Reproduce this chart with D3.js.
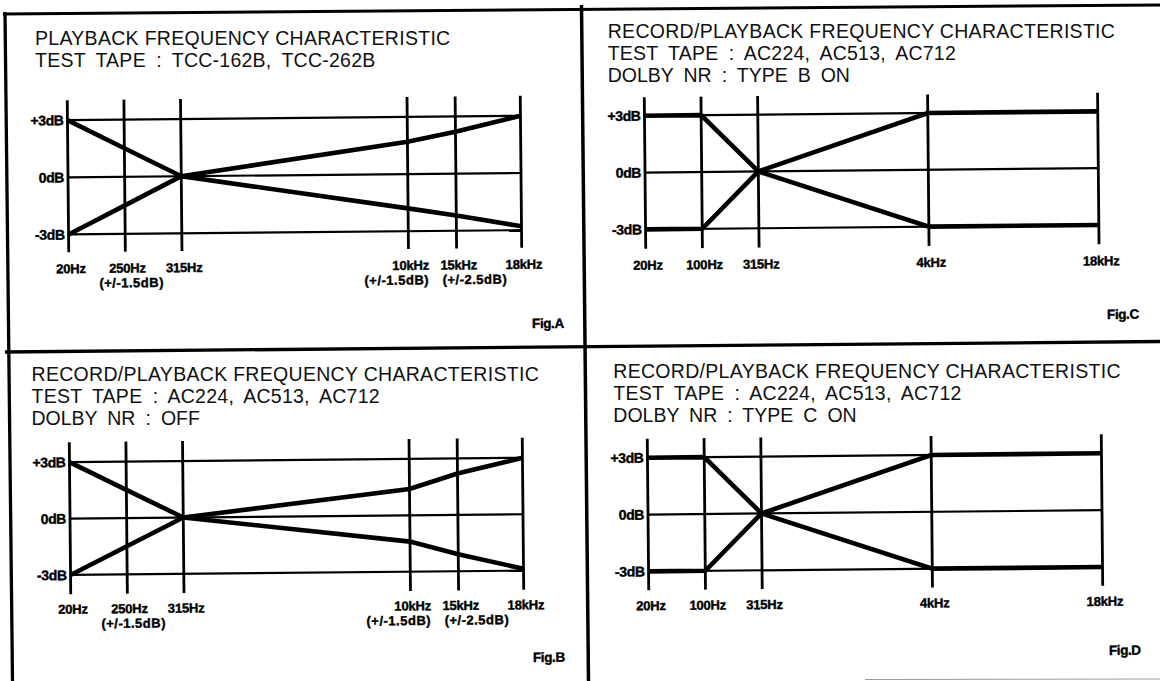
<!DOCTYPE html>
<html><head><meta charset="utf-8">
<script src="https://cdn.jsdelivr.net/npm/d3@7/dist/d3.min.js"></script>
<style>html,body{margin:0;padding:0;background:#fff;}svg{display:block}</style>
</head><body>
<svg id="chart" width="1160" height="681"></svg>
<script>
// ---------------- data ----------------
const freqsAB = ["20Hz", "250Hz", "315Hz", "10kHz", "15kHz", "18kHz"];
const tolAB = ["", "(+/-1.5dB)", "", "(+/-1.5dB)", "(+/-2.5dB)", ""];
const freqsCD = ["20Hz", "100Hz", "315Hz", "4kHz", "18kHz"];
const tolCD = ["", "", "", "", ""];
const dbTicks = [3, 0, -3];
const dbTickLabels = ["+3dB", "0dB", "-3dB"];

const upperA = [3, 1.5, 0, 1.7, 2.2, 3];
const lowerA = [-3, -1.5, 0, -1.8, -2.2, -2.8];
const upperB = [3, 1.5, 0, 1.4, 2.2, 3];
const lowerB = [-3, -1.5, 0, -1.4, -2.1, -2.9];
const upperC = [3, 3, 0, 3, 3];
const lowerC = [-3, -3, 0, -3, -3];
const upperD = [3, 3, 0, 3, 3];
const lowerD = [-3, -3, 0, -3, -3];

const titleA = ["PLAYBACK FREQUENCY CHARACTERISTIC", "TEST TAPE : TCC-162B, TCC-262B"];
const titleB = ["RECORD/PLAYBACK FREQUENCY CHARACTERISTIC", "TEST TAPE : AC224, AC513, AC712", "DOLBY NR : OFF"];
const titleC = ["RECORD/PLAYBACK FREQUENCY CHARACTERISTIC", "TEST TAPE : AC224, AC513, AC712", "DOLBY NR : TYPE B ON"];
const titleD = ["RECORD/PLAYBACK FREQUENCY CHARACTERISTIC", "TEST TAPE : AC224, AC513, AC712", "DOLBY NR : TYPE C ON"];
const figLabels = ["Fig.A", "Fig.B", "Fig.C", "Fig.D"];

// ---------------- layout ----------------
const slotsAB = [0, 1, 2, 6, 6.85, 8];
const slotsCD = [0, 1, 2, 5, 8];
const tolDxAB = [0, 4, 0, -14, 16, 0];
const tolDxCD = [0, 0, 0, 0, 0];
const TILT = -0.55;

const panels = [
  {fig: figLabels[0], title: titleA, freqs: freqsAB, tol: tolAB, slots: slotsAB, tolDx: tolDxAB,
   upper: upperA, lower: lowerA, x0: 68, x1: 521, yTop: 118, yBot: 232.3, vTop: 98, vBot: 250,
   labY: 271, tX: 35, tY: 45, figX: 530.6, figY: 330.4},
  {fig: figLabels[1], title: titleB, freqs: freqsAB, tol: tolAB, slots: slotsAB, tolDx: tolDxAB,
   upper: upperB, lower: lowerB, x0: 70, x1: 523, yTop: 460, yBot: 572.8, vTop: 440, vBot: 592,
   labY: 611.5, tX: 31.5, tY: 380.5, figX: 531.6, figY: 664.3},
  {fig: figLabels[2], title: titleC, freqs: freqsCD, tol: tolCD, slots: slotsCD, tolDx: tolDxCD,
   upper: upperC, lower: lowerC, x0: 645, x1: 1098.3, yTop: 113.5, yBot: 227.2, vTop: 95, vBot: 246.5,
   labY: 267.5, tX: 607.7, tY: 37.5, figX: 1105.6, figY: 321.3},
  {fig: figLabels[3], title: titleD, freqs: freqsCD, tol: tolCD, slots: slotsCD, tolDx: tolDxCD,
   upper: upperD, lower: lowerD, x0: 648, x1: 1102, yTop: 455.5, yBot: 569.2, vTop: 436.5, vBot: 588,
   labY: 608, tX: 613.3, tY: 378, figX: 1107.6, figY: 657.2}
];

const svg = d3.select("#chart");
svg.append("rect").attr("width", 1160).attr("height", 681).attr("fill", "#fff");

// frame (scanned page, slightly tilted)
const frame = svg.append("g").attr("stroke", "#000").attr("fill", "none");
frame.append("line").attr("x1", 3).attr("y1", 14).attr("x2", 1160).attr("y2", 5).attr("stroke-width", 3);
frame.append("line").attr("x1", 5).attr("y1", 12).attr("x2", 12.5).attr("y2", 681).attr("stroke-width", 3.3);
frame.append("line").attr("x1", 581.5).attr("y1", 5).attr("x2", 588.5).attr("y2", 681).attr("stroke-width", 3.5);
frame.append("line").attr("x1", 5).attr("y1", 352).attr("x2", 1160).attr("y2", 341.5).attr("stroke-width", 3.3);
frame.append("line").attr("x1", 865).attr("y1", 679.5).attr("x2", 1160).attr("y2", 679).attr("stroke-width", 1).attr("stroke", "#999");

const FONT = "'Liberation Sans', Arial, sans-serif";

function boldLabel(sel, size) {
  return sel.attr("font-family", FONT).attr("font-weight", "bold").attr("font-size", size)
    .attr("fill", "#000").attr("stroke", "#000").attr("stroke-width", 0.4);
}

panels.forEach(p => {
  const cx = (p.x0 + p.x1) / 2, cy = (p.yTop + p.yBot) / 2;
  const g = svg.append("g").attr("transform", `rotate(${TILT},${cx},${cy})`);
  const unit = d3.scaleLinear().domain([0, 8]).range([p.x0, p.x1]);
  const x = d3.scaleOrdinal().domain(p.freqs).range(p.slots.map(s => unit(s)));
  const y = d3.scaleLinear().domain([-3, 3]).range([p.yBot, p.yTop]);

  // horizontal grid lines
  g.selectAll("line.h").data(dbTicks).join("line").attr("class", "h")
    .attr("x1", p.x0).attr("x2", p.x1)
    .attr("y1", d => y(d)).attr("y2", d => y(d))
    .attr("stroke", "#000").attr("stroke-width", 2.2);

  // vertical frequency lines
  g.selectAll("line.v").data(p.freqs).join("line").attr("class", "v")
    .attr("x1", d => x(d)).attr("x2", d => x(d))
    .attr("y1", p.vTop).attr("y2", p.vBot)
    .attr("stroke", "#000").attr("stroke-width", 2.8);

  // y labels
  boldLabel(g.selectAll("text.yl").data(dbTicks).join("text").attr("class", "yl"), 14)
    .attr("x", p.x0 - 4).attr("y", d => y(d)).attr("dy", "0.36em")
    .attr("text-anchor", "end").attr("letter-spacing", -0.4)
    .text((d, i) => dbTickLabels[i]);

  // x labels
  boldLabel(g.selectAll("text.xl").data(p.freqs).join("text").attr("class", "xl"), 13)
    .attr("x", d => x(d) + 2).attr("y", p.labY)
    .attr("text-anchor", "middle").attr("letter-spacing", -0.2)
    .text(d => d);

  // tolerance labels below
  boldLabel(g.selectAll("text.tl")
    .data(p.freqs.map((f, i) => ({f, t: p.tol[i], dx: p.tolDx[i]})).filter(d => d.t))
    .join("text").attr("class", "tl"), 13)
    .attr("x", d => x(d.f) + 2 + d.dx).attr("y", p.labY + 14.7)
    .attr("text-anchor", "middle").attr("letter-spacing", 0.5)
    .text(d => d.t);

  // series
  const line = d3.line().x((d, i) => x(p.freqs[i])).y(d => y(d));
  g.selectAll("path.s").data([p.upper, p.lower]).join("path").attr("class", "s")
    .attr("d", line)
    .attr("fill", "none").attr("stroke", "#000").attr("stroke-width", 4.6)
    .attr("stroke-linejoin", "miter").attr("stroke-miterlimit", 2);

  // figure label
  boldLabel(g.append("text"), 13.5).attr("x", p.figX).attr("y", p.figY)
    .attr("letter-spacing", -0.4)
    .text(p.fig);

  // title lines (kept level so the stacked lines do not collide)
  svg.append("g").selectAll("text").data(p.title).join("text").attr("class", "title")
    .attr("font-family", FONT).attr("font-size", 19.5).attr("fill", "#111")
    .attr("x", p.tX).attr("y", (d, i) => p.tY + i * 22)
    .attr("letter-spacing", (d, i) => i === 0 ? 0.3 : (i === 1 ? 0.25 : 0))
    .style("word-spacing", (d, i) => i === 0 ? "0px" : "4.6px")
    .text(d => d);
});
</script>
</body></html>
